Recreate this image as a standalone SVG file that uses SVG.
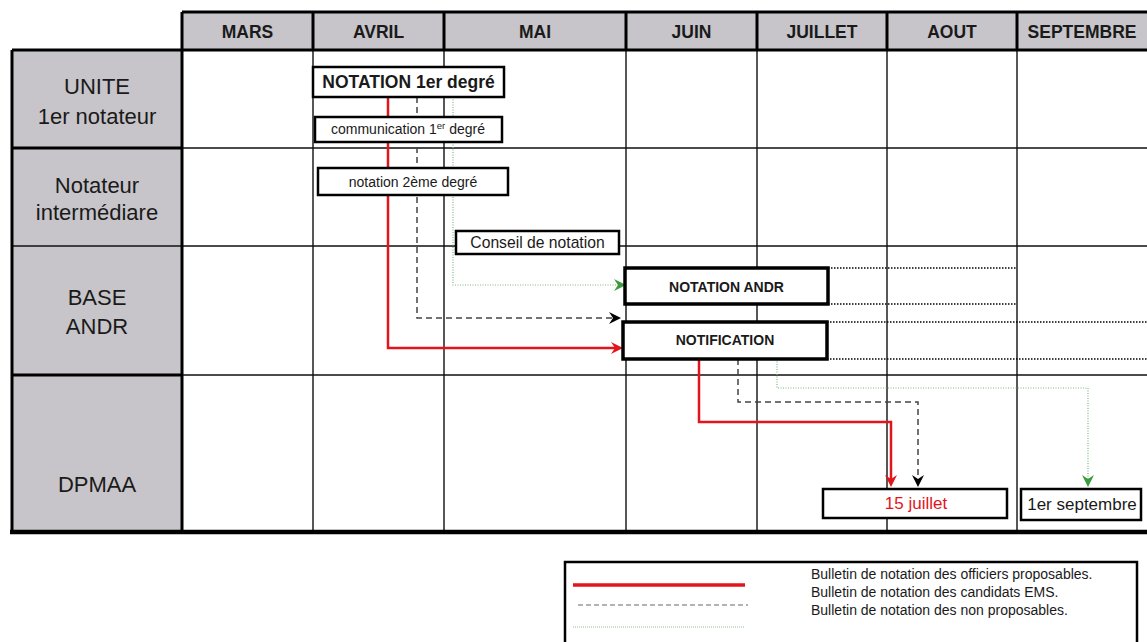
<svg xmlns="http://www.w3.org/2000/svg" width="1147" height="642" viewBox="0 0 1147 642">
<style>
text{font-family:"Liberation Sans",Arial,sans-serif;fill:#1a1a1a}
.hdr{font-size:17.5px;font-weight:bold;text-anchor:middle}
.lbl{font-size:22px;text-anchor:middle}
.grid{stroke:#111;stroke-width:1.4;fill:none}
.thick{stroke:#000;stroke-width:3;fill:none}
.box{fill:#fff;stroke:#000;stroke-width:2.5}
.bigbox{fill:#fff;stroke:#000;stroke-width:3.5}
.red{stroke:#e3141c;stroke-width:2.5;fill:none}
.blk{stroke:#444;stroke-width:1.5;fill:none;stroke-dasharray:6 4}
.grn{stroke:#7fb77f;stroke-width:1.2;fill:none;stroke-dasharray:1 1.5}
.dot{stroke:#000;stroke-width:1.6;fill:none;stroke-dasharray:1.5 1.5}
.mid{text-anchor:middle}
</style>
<defs>
<marker id="aR" markerUnits="userSpaceOnUse" markerWidth="12" markerHeight="12" viewBox="0 0 12 12" refX="4" refY="6" orient="auto"><path d="M0,0 L12,6 L0,12 L4,6 z" fill="#e3141c"/></marker>
<marker id="aK" markerUnits="userSpaceOnUse" markerWidth="12" markerHeight="12" viewBox="0 0 12 12" refX="4" refY="6" orient="auto"><path d="M0,0 L12,6 L0,12 L4,6 z" fill="#000"/></marker>
<marker id="aG" markerUnits="userSpaceOnUse" markerWidth="12" markerHeight="12" viewBox="0 0 12 12" refX="4" refY="6" orient="auto"><path d="M0,0 L12,6 L0,12 L4,6 z" fill="#3c9b3c"/></marker>
</defs>
<rect width="1147" height="642" fill="#fff"/>

<g id="grid">
<rect x="182" y="12" width="970" height="38" fill="#c7c5c9"/>
<rect x="12" y="50" width="170" height="482" fill="#c7c5c9"/>
<path class="grid" d="M313,50V532M444,50V532M626,50V532M757,50V532M887,50V532M1017,50V532"/>
<path class="grid" d="M182,148H1147M182,246H1147M182,375H1147"/>
<path class="grid" d="M12,246H182"/>
<path class="thick" d="M182,12H1150M182,12V532M313,12V50M444,12V50M626,12V50M757,12V50M887,12V50M1017,12V50"/>
<path class="thick" d="M12,50H1150M12,50V532M12,148H182M12,375H182"/>
<path stroke="#000" stroke-width="4.5" d="M10,532H1150"/>
</g>

<g id="months">
<text class="hdr" x="247.5" y="38">MARS</text>
<text class="hdr" x="378.5" y="38">AVRIL</text>
<text class="hdr" x="535" y="38">MAI</text>
<text class="hdr" x="691.5" y="38">JUIN</text>
<text class="hdr" x="822" y="38">JUILLET</text>
<text class="hdr" x="952" y="38">AOUT</text>
<text class="hdr" x="1082" y="38">SEPTEMBRE</text>
</g>

<g id="row-unite"><text class="lbl" x="97" y="94">UNITE</text><text class="lbl" x="97" y="124">1er notateur</text></g>
<g id="row-intermediaire"><text class="lbl" x="97" y="193">Notateur</text><text class="lbl" x="97" y="220">intermédiare</text></g>
<g id="row-base"><text class="lbl" x="97" y="305">BASE</text><text class="lbl" x="97" y="334">ANDR</text></g>
<g id="row-dpmaa"><text class="lbl" x="97" y="492">DPMAA</text></g>

<g id="connectors">
<path class="red" d="M388,97V348H615" marker-end="url(#aR)"/>
<path class="blk" d="M417,97V318H613" marker-end="url(#aK)"/>
<path class="grn" d="M453,97V285H618" marker-end="url(#aG)"/>
<path class="red" d="M699,359V422H891V479" marker-end="url(#aR)"/>
<path class="blk" d="M738,359V402H918V479" marker-end="url(#aK)"/>
<path class="grn" d="M777,359V388H1088V479" marker-end="url(#aG)"/>
<path class="dot" d="M828,268H1016M828,304H1016M827,322H1147M827,359H1147"/>
</g>

<g id="notation1"><rect class="box" x="313" y="67" width="191" height="30"/><text x="408.5" y="88" class="mid" font-size="17.5" font-weight="bold">NOTATION 1er degré</text></g>
<g id="communication"><rect class="box" x="315" y="117" width="187" height="25"/><text x="408" y="134" class="mid" font-size="14">communication 1<tspan font-size="9.5" dy="-5">er</tspan><tspan dy="5"> degré</tspan></text></g>
<g id="notation2"><rect class="box" x="318" y="168" width="190" height="27"/><text x="413" y="187" class="mid" font-size="14">notation 2ème degré</text></g>
<g id="conseil"><rect class="box" x="456" y="231" width="163" height="23" stroke-width="2"/><text x="537.5" y="248" class="mid" font-size="15.7">Conseil de notation</text></g>
<g id="notation-andr"><rect class="bigbox" x="625" y="268" width="203" height="36"/><text x="726.5" y="292" class="mid" font-size="14" font-weight="bold">NOTATION ANDR</text></g>
<g id="notification"><rect class="bigbox" x="623" y="322" width="204" height="37"/><text x="725" y="345" class="mid" font-size="14" font-weight="bold">NOTIFICATION</text></g>
<g id="juillet15"><rect class="box" x="823" y="489" width="184" height="29"/><text x="916" y="509" class="mid" font-size="17" style="fill:#e3141c">15 juillet</text></g>
<g id="septembre1"><rect class="box" x="1021" y="489" width="120" height="31"/><text x="1082" y="510" class="mid" font-size="17">1er septembre</text></g>

<g id="legend">
<rect x="565" y="562" width="572" height="90" fill="#fff" stroke="#000" stroke-width="2.5"/>
<path d="M573,585H745" stroke="#e3141c" stroke-width="3.5"/>
<path d="M578,605H748" stroke="#666" stroke-width="1.2" stroke-dasharray="5 3"/>
<path d="M573,627H745" stroke="#8fbf8f" stroke-width="1" stroke-dasharray="1 1"/>
<text x="811" y="579" font-size="14">Bulletin de notation des officiers proposables.</text>
<text x="811" y="597" font-size="14">Bulletin de notation des candidats EMS.</text>
<text x="811" y="615" font-size="14">Bulletin de notation des non proposables.</text>
</g>
</svg>
